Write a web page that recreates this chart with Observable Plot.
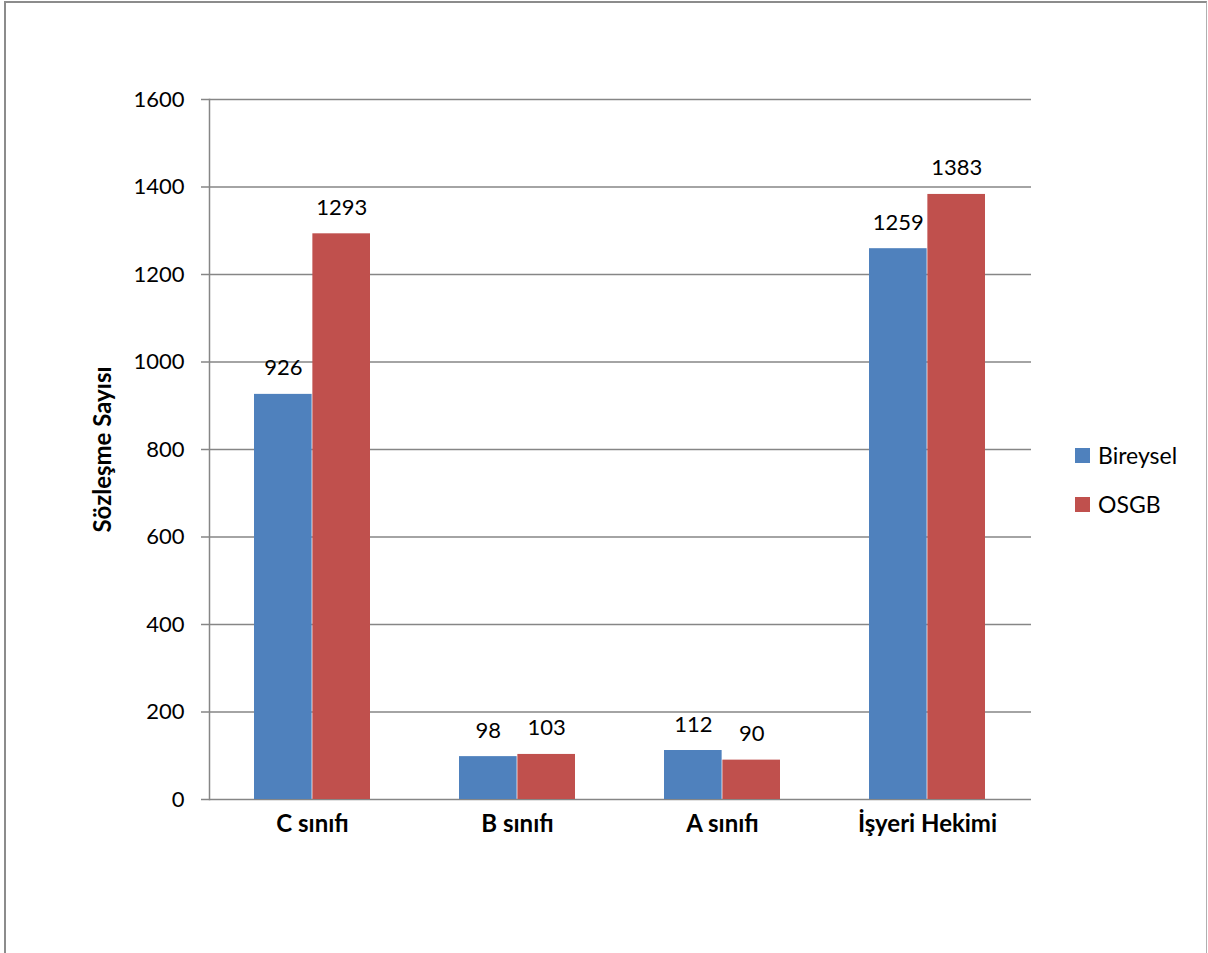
<!DOCTYPE html>
<html>
<head>
<meta charset="utf-8">
<script src="https://cdn.jsdelivr.net/npm/d3@7"></script>
<script src="https://cdn.jsdelivr.net/npm/@observablehq/plot@0.6"></script>
<style>
  html, body { margin: 0; padding: 0; background: #fff; }
  #wrap { position: relative; width: 1208px; height: 953px; overflow: hidden; font-family: Lato, "Open Sans", sans-serif; }
  #border { position: absolute; left: 4px; top: 1px; width: 1200px; height: 1000px;
            border-left: 2px solid #8c8c8c; border-top: 2px solid #8c8c8c; border-right: 1px solid #b0b0b0; }
  #chart { position: absolute; left: 0; top: 0; }
  .legend { position: absolute; left: 1075px; font-size: 23px; line-height: 28px; color: #000; display: flex; align-items: center; }
  .legend span.sw { display: inline-block; width: 15px; height: 15px; margin-right: 8px; }
</style>
</head>
<body>
<div id="wrap">
  <div id="border"></div>
  <div id="chart"></div>
  <div id="legend"></div>
</div>
<script>
const categories = ["C sınıfı", "B sınıfı", "A sınıfı", "İşyeri Hekimi"];
const seriesNames = ["Bireysel", "OSGB"];
const bireysel = [926, 98, 112, 1259];
const osgb = [1293, 103, 90, 1383];
const yTicks = [0, 200, 400, 600, 800, 1000, 1200, 1400, 1600];
const colors = ["#4f81bd", "#c0504d"];
const yTitle = "Sözleşme Sayısı";

const bData = categories.map((c, i) => ({category: c, value: bireysel[i]}));
const oData = categories.map((c, i) => ({category: c, value: osgb[i]}));

const W = 1208, H = 953;
const mL = 209, mR = 177, mT = 99, mB = 154;
const pInner = 0.432;
const bw = (W - mL - mR) / categories.length * (1 - pInner);

const chart = Plot.plot({
  width: W,
  height: H,
  marginLeft: mL,
  marginRight: mR,
  marginTop: mT,
  marginBottom: mB,
  style: {fontFamily: "Lato, 'Open Sans', sans-serif", color: "#000", background: "transparent", overflow: "visible"},
  x: {domain: categories, paddingInner: pInner, paddingOuter: pInner / 2},
  y: {domain: [0, 1600]},
  marks: [
    Plot.gridY(yTicks, {stroke: "#868686", strokeOpacity: 1, strokeWidth: 1.5}),
    Plot.frame({anchor: "left", stroke: "#868686", strokeWidth: 1.5}),
    Plot.axisY(yTicks, {tickSize: 8, tickPadding: 17, fontSize: 22, stroke: "#868686", strokeWidth: 1.5, label: null, tickFormat: d => String(d)}),
    Plot.axisX({tickSize: 0, tickPadding: 15, fontSize: 24, fontWeight: "bold", label: null}),
    Plot.barY(bData, {x: "category", y: "value", fill: colors[0], insetRight: bw / 2}),
    Plot.barY(oData, {x: "category", y: "value", fill: colors[1], insetLeft: bw / 2}),
    Plot.text(bData, {x: "category", y: "value", text: d => String(d.value), dx: -bw / 4, dy: -26, fontSize: 22, fill: "#000"}),
    Plot.text(oData, {x: "category", y: "value", text: d => String(d.value), dx: bw / 4, dy: -26, fontSize: 22, fill: "#000"}),
    Plot.text([yTitle], {frameAnchor: "left", textAnchor: "middle", text: d => d, rotate: -90, dx: -106, fontSize: 24, fontWeight: "bold", fill: "#000"})
  ]
});
document.getElementById("chart").appendChild(chart);

const legend = document.getElementById("legend");
const legendTops = [441, 490];
seriesNames.forEach((name, i) => {
  const item = document.createElement("div");
  item.className = "legend";
  item.style.top = legendTops[i] + "px";
  item.innerHTML = `<span class="sw" style="background:${colors[i]}"></span><span>${name}</span>`;
  legend.appendChild(item);
});
</script>
</body>
</html>
